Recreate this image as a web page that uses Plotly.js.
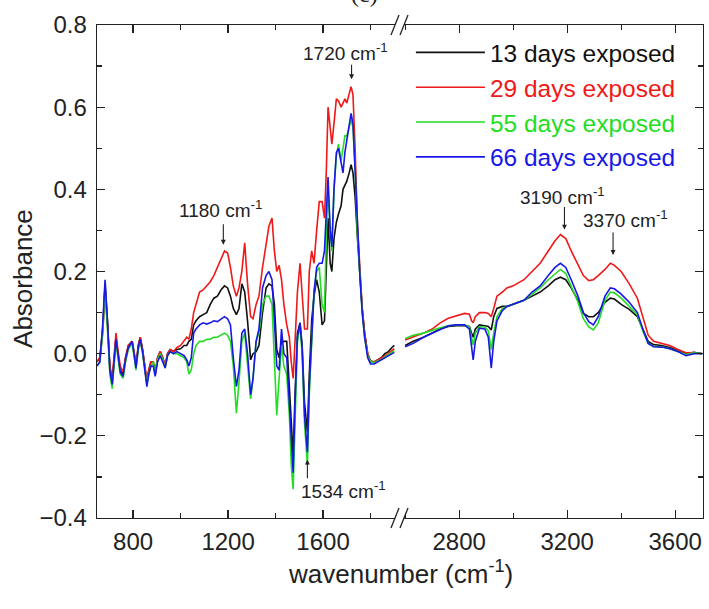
<!DOCTYPE html>
<html>
<head>
<meta charset="utf-8">
<script src="https://cdn.plot.ly/plotly-3.0.1.min.js"></script>
<style>html,body{margin:0;padding:0;background:#fff;}#chart{width:709px;height:609px;}</style>
</head>
<body>
<div id="chart"></div>
<script>
// ---- Data ----
const seriesNames = ['13 days exposed', '29 days exposed', '55 days exposed', '66 days exposed'];

const wnLeft = [648,660,672,682,692,702,712,720,728,736,746,758,768,780,796,805,812,822,830,840,850,858,866,875,885,893,903,914,925,935,945,956,970,985,1000,1015,1026,1035,1045,1055,1065,1080,1095,1110,1125,1140,1155,1170,1185,1198,1210,1222,1235,1246,1258,1270,1282,1295,1305,1318,1330,1345,1360,1372,1385,1395,1405,1415,1425,1435,1447,1458,1466,1474,1482,1492,1503,1512,1522,1534,1542,1552,1562,1573,1584,1596,1606,1614,1621,1630,1637,1646,1656,1665,1676,1684,1692,1700,1710,1718,1726,1735,1745,1755,1765,1775,1788,1800,1815,1830,1845,1860,1875,1890,1900];

const d13Left = [-0.02,-0.01,0.06,0.17,0.08,-0.03,-0.07,-0.01,0.04,0.00,-0.04,-0.05,-0.01,0.02,0.03,0.00,-0.03,0.02,0.04,0.01,-0.04,-0.07,-0.04,-0.02,-0.02,-0.05,-0.01,0.005,-0.01,-0.03,0.00,0.01,0.005,0.01,0.012,0.02,0.02,0.03,0.035,0.07,0.08,0.09,0.095,0.10,0.12,0.135,0.14,0.155,0.165,0.16,0.14,0.11,0.095,0.11,0.17,0.15,0.08,-0.015,0.00,0.005,0.02,0.10,0.16,0.17,0.165,0.12,0.01,-0.01,0.03,0.03,0.03,-0.08,-0.18,-0.25,-0.10,0.05,0.075,0.02,-0.12,-0.19,-0.05,0.08,0.14,0.18,0.15,0.07,0.08,0.20,0.33,0.22,0.20,0.28,0.32,0.34,0.36,0.40,0.41,0.42,0.44,0.46,0.44,0.38,0.28,0.19,0.11,0.05,0.00,-0.018,-0.02,-0.015,-0.01,0.00,0.005,0.015,0.02];

const d29Left = [-0.02,-0.01,0.05,0.15,0.07,-0.03,-0.06,0.00,0.05,0.01,-0.03,-0.045,-0.01,0.02,0.03,0.00,-0.03,0.02,0.04,0.01,-0.04,-0.065,-0.04,-0.02,-0.02,-0.05,-0.01,0.005,-0.01,-0.03,0.00,0.01,0.005,0.015,0.02,0.03,0.04,0.035,0.06,0.10,0.12,0.15,0.155,0.165,0.175,0.19,0.21,0.23,0.25,0.245,0.21,0.165,0.14,0.16,0.20,0.27,0.17,0.09,0.085,0.12,0.14,0.21,0.27,0.31,0.33,0.25,0.20,0.215,0.18,0.12,0.07,0.04,-0.02,-0.06,0.03,0.15,0.22,0.14,0.06,0.06,0.20,0.25,0.22,0.30,0.37,0.37,0.33,0.45,0.60,0.55,0.51,0.56,0.62,0.615,0.60,0.61,0.62,0.61,0.63,0.65,0.63,0.50,0.31,0.20,0.11,0.05,0.00,-0.02,-0.02,-0.015,-0.01,-0.005,0.00,0.008,0.012];

const d55Left = [-0.03,-0.02,0.05,0.16,0.06,-0.05,-0.085,-0.02,0.03,-0.01,-0.05,-0.06,-0.02,0.01,0.025,-0.01,-0.04,0.01,0.03,0.00,-0.05,-0.075,-0.05,-0.03,-0.02,-0.05,-0.015,0.00,-0.015,-0.035,-0.005,0.005,0.00,0.00,-0.005,-0.01,-0.02,-0.05,-0.04,0.00,0.02,0.03,0.03,0.035,0.035,0.04,0.04,0.045,0.05,0.045,0.03,-0.03,-0.145,-0.07,0.03,0.05,-0.02,-0.11,-0.06,0.03,0.05,0.12,0.14,0.14,0.12,0.00,-0.15,-0.06,0.02,-0.03,-0.05,-0.15,-0.27,-0.33,-0.15,0.03,0.07,0.00,-0.17,-0.27,-0.10,0.03,0.15,0.20,0.21,0.12,0.10,0.30,0.40,0.30,0.25,0.40,0.48,0.51,0.47,0.50,0.53,0.53,0.55,0.57,0.55,0.45,0.29,0.19,0.10,0.04,-0.005,-0.02,-0.022,-0.018,-0.015,-0.008,-0.003,0.003,0.008];

const d66Left = [-0.03,-0.02,0.07,0.18,0.08,-0.04,-0.075,-0.01,0.035,0.00,-0.045,-0.055,-0.015,0.015,0.03,-0.005,-0.035,0.015,0.035,0.005,-0.05,-0.08,-0.05,-0.03,-0.03,-0.055,-0.02,-0.005,-0.02,-0.035,-0.005,0.005,0.00,0.005,0.00,-0.005,-0.015,-0.03,-0.01,0.05,0.06,0.07,0.075,0.072,0.075,0.08,0.078,0.085,0.09,0.085,0.07,-0.01,-0.08,-0.04,0.05,0.06,0.00,-0.10,-0.06,0.03,0.06,0.16,0.19,0.20,0.18,0.08,-0.03,-0.04,0.06,0.00,-0.01,-0.12,-0.22,-0.29,-0.12,0.04,0.075,0.01,-0.15,-0.24,-0.08,0.05,0.15,0.21,0.22,0.22,0.25,0.35,0.43,0.30,0.26,0.40,0.49,0.50,0.46,0.44,0.49,0.52,0.56,0.585,0.56,0.45,0.29,0.19,0.10,0.04,-0.01,-0.025,-0.025,-0.02,-0.015,-0.01,-0.005,0.00,0.003];

const wnRight = [2600,2630,2668,2700,2730,2760,2790,2820,2838,2846,2852,2860,2875,2895,2908,2919,2928,2940,2960,2977,3000,3040,3070,3100,3130,3155,3175,3195,3215,3240,3260,3280,3297,3315,3340,3360,3375,3400,3430,3460,3480,3500,3520,3550,3580,3610,3640,3670,3700];

const d13Right = [0.02,0.03,0.04,0.05,0.06,0.066,0.068,0.068,0.066,0.05,0.04,0.06,0.07,0.068,0.066,0.058,0.09,0.11,0.115,0.115,0.12,0.13,0.14,0.15,0.165,0.18,0.186,0.18,0.16,0.13,0.098,0.09,0.09,0.10,0.125,0.135,0.133,0.12,0.108,0.09,0.06,0.03,0.022,0.02,0.015,0.008,0.00,0.003,0.00];
const d29Right = [0.033,0.04,0.05,0.06,0.075,0.086,0.092,0.098,0.096,0.08,0.075,0.09,0.10,0.10,0.098,0.09,0.11,0.14,0.15,0.16,0.165,0.18,0.20,0.22,0.25,0.275,0.29,0.28,0.25,0.215,0.19,0.178,0.18,0.19,0.205,0.22,0.215,0.20,0.17,0.135,0.09,0.045,0.03,0.025,0.02,0.01,0.002,0.003,0.00];
const d55Right = [0.037,0.045,0.05,0.057,0.063,0.068,0.07,0.07,0.065,0.04,0.021,0.05,0.066,0.065,0.055,0.01,0.05,0.09,0.11,0.115,0.12,0.13,0.145,0.16,0.18,0.195,0.205,0.195,0.165,0.125,0.085,0.065,0.058,0.075,0.13,0.15,0.148,0.135,0.115,0.095,0.055,0.025,0.018,0.017,0.012,0.005,-0.002,0.002,0.00];
const d66Right = [0.017,0.025,0.04,0.05,0.06,0.068,0.07,0.07,0.06,0.02,-0.015,0.03,0.062,0.06,0.04,-0.035,0.03,0.08,0.105,0.115,0.12,0.13,0.15,0.165,0.19,0.21,0.22,0.21,0.18,0.14,0.10,0.078,0.07,0.09,0.14,0.16,0.158,0.145,0.125,0.10,0.06,0.025,0.017,0.016,0.012,0.005,-0.005,0.00,0.00];

// peak labels: [axis, wavenumber, arrow tip value, label]
const peakLabels = [
  ['x', 1720, 0.668, '1720 cm<sup>-1</sup>'],
  ['x', 1180, 0.265, '1180 cm<sup>-1</sup>'],
  ['x', 1534, -0.258, '1534 cm<sup>-1</sup>'],
  ['x2', 3190, 0.302, '3190 cm<sup>-1</sup>'],
  ['x2', 3370, 0.24, '3370 cm<sup>-1</sup>']
];

const colors = ['#111111', '#f01818', '#22dd22', '#1818e6'];
const leftSets = [d13Left, d29Left, d55Left, d66Left];
const rightSets = [d13Right, d29Right, d55Right, d66Right];

// ---- Traces ----
const traces = [];
for (let i = 0; i < seriesNames.length; i++) {
  traces.push({
    x: wnLeft, y: leftSets[i], type: 'scatter', mode: 'lines',
    xaxis: 'x', yaxis: 'y',
    line: {color: colors[i], width: 1.6},
    name: '<span style="color:' + colors[i] + '">' + seriesNames[i] + '</span>',
    legendgroup: 'g' + i, showlegend: true
  });
  traces.push({
    x: wnRight, y: rightSets[i], type: 'scatter', mode: 'lines',
    xaxis: 'x2', yaxis: 'y',
    line: {color: colors[i], width: 1.6},
    name: seriesNames[i], legendgroup: 'g' + i, showlegend: false
  });
}
// invisible trace that activates the right-hand mirrored axis
traces.push({x: [3000], y: [null], xaxis: 'x2', yaxis: 'y2', type: 'scatter', mode: 'lines', showlegend: false, hoverinfo: 'skip'});

const fontFam = 'Liberation Sans, Arial, sans-serif';
const ink = '#222';
const minorTicks = {ticks: 'inside', ticklen: 5, tickcolor: ink, tickwidth: 1.2};
const axisCommon = {
  showline: true, linecolor: ink, linewidth: 1.3,
  ticks: 'inside', ticklen: 8, tickwidth: 1.2, tickcolor: ink,
  showgrid: false, zeroline: false,
  tickfont: {family: fontFam, size: 24, color: ink}
};

// axis-break marks (paper coords)
const pw = 606, ph = 493;
function slash(cx, cy) {
  return {type: 'line', xref: 'paper', yref: 'paper', layer: 'above',
    x0: cx - 4/pw, x1: cx + 4/pw, y0: cy - 10/ph, y1: cy + 10/ph,
    line: {color: ink, width: 1.3}};
}
const bx = 0.5;
const shapes = [
  {type: 'rect', xref: 'paper', yref: 'paper', layer: 'above', x0: bx - 5/pw, x1: bx + 4/pw, y0: 1 - 3/ph, y1: 1 + 3/ph, fillcolor: '#fff', line: {width: 0}},
  {type: 'rect', xref: 'paper', yref: 'paper', layer: 'above', x0: bx - 5/pw, x1: bx + 4/pw, y0: -3/ph, y1: 3/ph, fillcolor: '#fff', line: {width: 0}},
  slash(bx - 5/pw, 1), slash(bx + 4/pw, 1),
  slash(bx - 5/pw, 0), slash(bx + 4/pw, 0)
];

const annFont = {family: fontFam, size: 19, color: ink};
// [arrow length px (negative = arrow points down), text x shift, text y shift]
const labelGeom = [[-16, -6, 27], [-22, -3, 36], [20, 36, -30], [-24, -2, 34], [-24, 12, 36]];
const annotations = [];
peakLabels.forEach(function (p, i) {
  const g = labelGeom[i];
  annotations.push({xref: p[0], yref: 'y', x: p[1], y: p[2], text: '', showarrow: true,
    arrowhead: 2, arrowsize: 0.9, arrowwidth: 1.1, arrowcolor: ink, ax: 0, ay: g[0]});
  annotations.push({xref: p[0], yref: 'y', x: p[1], y: p[2], text: p[3], showarrow: false,
    xshift: g[1], yshift: g[2], xanchor: 'center', yanchor: 'middle', font: annFont});
});
annotations.push({xref: 'paper', yref: 'paper', x: 0.5, y: -0.11, yanchor: 'middle', showarrow: false,
  text: 'wavenumber (cm<sup>-1</sup>)', font: {family: fontFam, size: 26, color: ink}});
annotations.push({xref: 'paper', yref: 'paper', x: -0.122, y: 0.485, xanchor: 'center', yanchor: 'middle',
  textangle: -90, showarrow: false, text: 'Absorbance', font: {family: fontFam, size: 26, color: ink}});
annotations.push({xref: 'paper', yref: 'paper', x: 0.442, y: 1.032, yanchor: 'bottom', showarrow: false,
  text: '(c)', font: {family: 'Liberation Serif, serif', size: 24, color: ink}});

const layout = {
  width: 709, height: 609,
  margin: {l: 97, r: 6, t: 25, b: 91},
  paper_bgcolor: '#fff', plot_bgcolor: '#fff',
  showlegend: true,
  legend: {x: 0.518, y: 0.99, xanchor: 'left', yanchor: 'top',
    font: {family: fontFam, size: 24.5, color: ink}, bgcolor: 'rgba(0,0,0,0)',
    itemwidth: 69, tracegroupgap: 0},
  xaxis: Object.assign({}, axisCommon, {
    domain: [0, 0.5], range: [648, 1924], anchor: 'y', mirror: 'ticks',
    tick0: 0, dtick: 400, ticklabelstandoff: 2,
    minor: Object.assign({dtick: 200}, minorTicks)
  }),
  xaxis2: Object.assign({}, axisCommon, {
    domain: [0.5, 1], range: [2581, 3703], anchor: 'y', mirror: 'ticks',
    tick0: 0, dtick: 400, ticklabelstandoff: 2,
    minor: Object.assign({dtick: 200}, minorTicks)
  }),
  yaxis: Object.assign({}, axisCommon, {
    range: [-0.4, 0.8], anchor: 'x', tick0: 0, dtick: 0.2, tickformat: '.1f',
    ticklabelstandoff: 4,
    minor: Object.assign({dtick: 0.1}, minorTicks)
  }),
  yaxis2: Object.assign({}, axisCommon, {
    range: [-0.4, 0.8], anchor: 'x2', overlaying: 'y', side: 'right',
    tick0: 0, dtick: 0.2, showticklabels: false,
    minor: Object.assign({dtick: 0.1}, minorTicks)
  }),
  shapes: shapes,
  annotations: annotations
};

Plotly.newPlot('chart', traces, layout, {displayModeBar: false, staticPlot: true});
</script>
</body>
</html>
